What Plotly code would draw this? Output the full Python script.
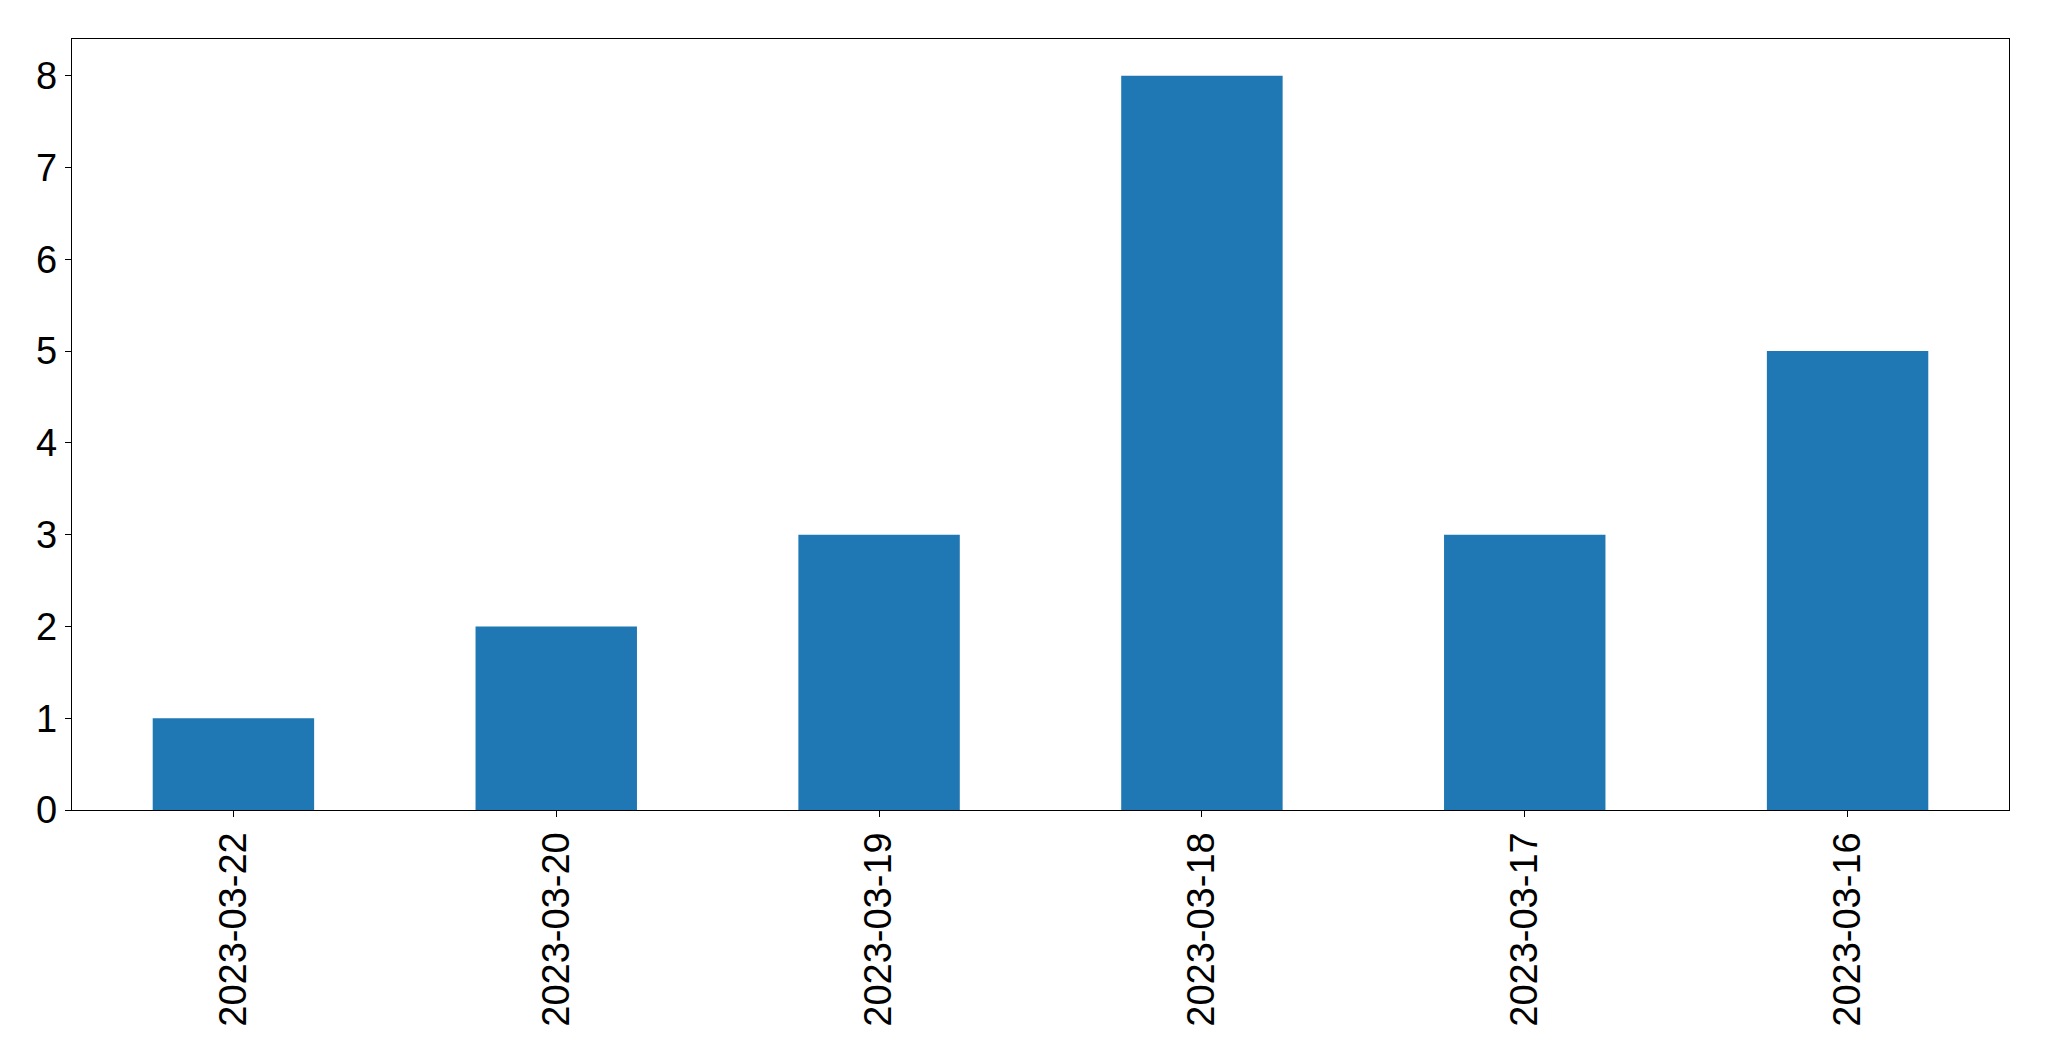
import plotly.graph_objects as go

dates = ["2023-03-22", "2023-03-20", "2023-03-19", "2023-03-18", "2023-03-17", "2023-03-16"]
counts = [1, 2, 3, 8, 3, 5]
y_ticks = [0, 1, 2, 3, 4, 5, 6, 7, 8]

fig = go.Figure(go.Bar(x=dates, y=counts, marker=dict(color="#1f77b4", line=dict(width=0)), width=0.5))

axis_common = dict(showline=True, linecolor="black", linewidth=1.3, mirror=True,
                   ticks="outside", ticklen=6, tickwidth=1.3, tickcolor="black",
                   showgrid=False, zeroline=False,
                   tickfont=dict(family="Liberation Sans, Arial", size=38, color="black"))

fig.update_layout(
    width=2049, height=1061,
    margin=dict(l=64, r=48, t=31, b=259),
    paper_bgcolor="white", plot_bgcolor="white",
    showlegend=False,
    bargap=0.5,
)
fig.update_xaxes(type="category", tickangle=-90, range=[-0.5, 5.5], **axis_common)
fig.update_yaxes(range=[0, 8.4], tickvals=y_ticks, **axis_common)

fig.write_html("out.html")
